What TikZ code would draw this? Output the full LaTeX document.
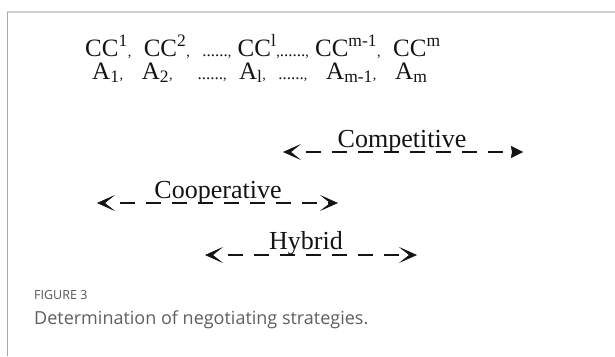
\documentclass[tikz,border=0pt]{standalone}
\usepackage{fontspec}
\setmainfont{Liberation Serif}
\newfontfamily\capfont{Open Sans}
\usetikzlibrary{arrows.meta}
\definecolor{capgray}{HTML}{5E5E5E}
\definecolor{figgray}{HTML}{555555}
\definecolor{topgray}{HTML}{CFCFCF}
\definecolor{edgegray}{HTML}{A8A8A8}
\definecolor{ink}{HTML}{141414}
\newcommand{\smc}{{\fontsize{14}{14}\selectfont,}}
\newcommand{\dts}{{\fontsize{17}{17}\selectfont......}}
\tikzset{
  rowtext/.style={font=\fontsize{25}{25}\selectfont, anchor=base west, inner sep=0pt, text=ink},
  lbl/.style={font=\fontsize{26}{26}\selectfont, anchor=base, inner sep=0pt, text=ink},
  strat/.style={draw=ink, line width=1.6pt,
    dash pattern=on 0pt off 15pt on 15pt off 11pt on 15pt off 11pt on 15pt off 11pt on 15pt off 11pt on 15pt off 11pt on 15pt off 11pt on 15pt off 11pt on 15pt off 11pt on 15pt off 60pt},
  chev/.tip={Stealth[length=18pt,width=16pt,inset=10pt,line width=0.6pt]},
  tri/.tip={Stealth[length=12pt,width=12pt,inset=1pt,line width=0.4pt]},
  capsmall/.style={font=\capfont\fontsize{12.5}{12.5}\selectfont, text=figgray, anchor=base west, inner sep=0pt},
  capbig/.style={font=\capfont\fontsize{18}{18}\selectfont, text=capgray, anchor=base west, inner sep=0pt}
}
\begin{document}
\begin{tikzpicture}[x=1pt,y=-1pt]
\useasboundingbox (0,0) rectangle (615,356);
% frame
\draw[topgray, line width=2pt] (7,12) -- (615,12);
\draw[edgegray, line width=1pt] (7,12) -- (7,356);
% rows
\node[rowtext] (row1) at (85,56) {CC\textsuperscript{1}\smc\ \ CC\textsuperscript{2}\smc\ \ \dts\smc\ CC\textsuperscript{l}\smc\dts\smc\ CC\textsuperscript{m-1}\smc\ \ CC\textsuperscript{m}};
\node[rowtext] (row2) at (92,79) {A\textsubscript{1}\smc\ \ \ A\textsubscript{2}\smc\ \ \ \ \dts\smc\ \ A\textsubscript{l}\smc\ \ \dts\smc\ \ \ A\textsubscript{m-1}\smc\ \ \ A\textsubscript{m}};
% competitive
\coordinate (compL) at (283,152);
\coordinate (compR) at (523,152);
\node[lbl] (comp) at (402,147) {Competitive};
\draw[strat, {chev}-{tri}] (compL) -- (compR);
% cooperative
\coordinate (coopL) at (97,203);
\coordinate (coopR) at (338,203);
\node[lbl] (coop) at (218,198) {Cooperative};
\draw[strat, {chev}-{chev}] (coopL) -- (coopR);
% hybrid
\coordinate (hybL) at (205,255);
\coordinate (hybR) at (417,255);
\node[lbl] (hyb) at (306,249) {Hybrid};
\draw[strat, {chev}-{chev}] (hybL) -- (hybR);
% caption
\node[capsmall] (fig) at (34,299) {FIGURE 3};
\node[capbig] (cap) at (34,324) {Determination of negotiating strategies.};
\end{tikzpicture}
\end{document}
